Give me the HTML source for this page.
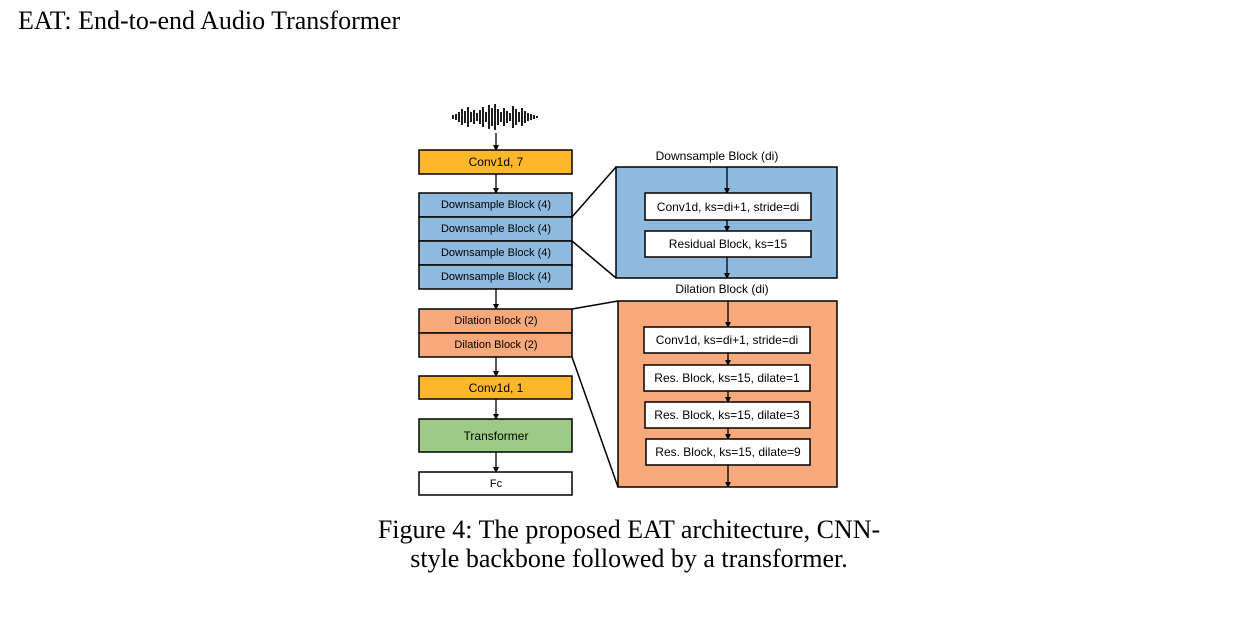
<!DOCTYPE html>
<html><head><style>
body{margin:0;background:#fff;width:1246px;height:620px;overflow:hidden;position:relative}
.t{position:absolute;font-family:"Liberation Serif",serif;color:#000}
svg text{font-family:"Liberation Sans",sans-serif;font-size:11.5px;text-anchor:middle;dominant-baseline:central}
</style></head><body>
<div class="t" style="left:18px;top:6px;font-size:26px">EAT: End-to-end Audio Transformer</div>
<div class="t" style="left:306px;top:515px;width:646px;text-align:center;font-size:26px;line-height:29px">Figure 4: The proposed EAT architecture, CNN-<br>style backbone followed by a transformer.</div>
<svg width="1246" height="620" style="position:absolute;left:0;top:0">
<defs><marker id="a" markerWidth="6" markerHeight="6" refX="5" refY="3" orient="auto" markerUnits="userSpaceOnUse"><path d="M0,0L6,3L0,6z" fill="#000"/></marker></defs>
<g stroke="#111" stroke-width="1.9">
<line x1="453" y1="115" x2="453" y2="119"/><line x1="456" y1="114" x2="456" y2="120"/><line x1="459" y1="112" x2="459" y2="122"/><line x1="462" y1="109" x2="462" y2="125"/><line x1="465" y1="111" x2="465" y2="123"/><line x1="468" y1="107" x2="468" y2="127"/><line x1="471" y1="112" x2="471" y2="122"/><line x1="474" y1="110" x2="474" y2="124"/><line x1="477" y1="113" x2="477" y2="121"/><line x1="480" y1="110" x2="480" y2="124"/><line x1="483" y1="107" x2="483" y2="127"/><line x1="486" y1="112" x2="486" y2="122"/><line x1="489" y1="105" x2="489" y2="129"/><line x1="492" y1="108" x2="492" y2="126"/><line x1="495" y1="104" x2="495" y2="130"/><line x1="498" y1="109" x2="498" y2="125"/><line x1="501" y1="112" x2="501" y2="122"/><line x1="504" y1="108" x2="504" y2="126"/><line x1="507" y1="111" x2="507" y2="123"/><line x1="510" y1="113" x2="510" y2="121"/><line x1="513" y1="106" x2="513" y2="128"/><line x1="516" y1="109" x2="516" y2="125"/><line x1="519" y1="112" x2="519" y2="122"/><line x1="522" y1="108" x2="522" y2="126"/><line x1="525" y1="111" x2="525" y2="123"/><line x1="528" y1="113" x2="528" y2="121"/><line x1="531" y1="114" x2="531" y2="120"/><line x1="534" y1="115" x2="534" y2="119"/><line x1="537" y1="116" x2="537" y2="118"/>
</g>
<g stroke="#000" stroke-width="1.3" marker-end="url(#a)">
<line x1="496" y1="133" x2="496" y2="150"/>
<line x1="496" y1="174" x2="496" y2="193"/>
<line x1="496" y1="289" x2="496" y2="309"/>
<line x1="496" y1="357" x2="496" y2="376"/>
<line x1="496" y1="399" x2="496" y2="419"/>
<line x1="496" y1="452" x2="496" y2="472"/>
</g>
<g stroke="#000" stroke-width="1.5">
<rect x="419" y="150" width="153" height="24" fill="#fdb72a"/>
<rect x="419" y="193" width="153" height="24" fill="#8ebadf"/>
<rect x="419" y="217" width="153" height="24" fill="#8ebadf"/>
<rect x="419" y="241" width="153" height="24" fill="#8ebadf"/>
<rect x="419" y="265" width="153" height="24" fill="#8ebadf"/>
<rect x="419" y="309" width="153" height="24" fill="#f8a97c"/>
<rect x="419" y="333" width="153" height="24" fill="#f8a97c"/>
<rect x="419" y="376" width="153" height="23" fill="#fdb72a"/>
<rect x="419" y="419" width="153" height="33" fill="#9dcb86"/>
<rect x="419" y="472" width="153" height="23" fill="#fff"/>
<rect x="616" y="167" width="221" height="111" fill="#8ebadf"/>
<rect x="618" y="301" width="219" height="186" fill="#f8a97c"/>
<line x1="572" y1="217" x2="616" y2="167"/>
<line x1="572" y1="241" x2="616" y2="278"/>
<line x1="572" y1="309" x2="618" y2="301"/>
<line x1="572" y1="357" x2="618" y2="487"/>
</g>
<g stroke="#000" stroke-width="1.3" marker-end="url(#a)">
<line x1="727" y1="167" x2="727" y2="193"/>
<line x1="727" y1="220" x2="727" y2="231"/>
<line x1="727" y1="257" x2="727" y2="278"/>
<line x1="728" y1="301" x2="728" y2="327"/>
<line x1="728" y1="353" x2="728" y2="365"/>
<line x1="728" y1="391" x2="728" y2="402"/>
<line x1="728" y1="428" x2="728" y2="439"/>
<line x1="728" y1="465" x2="728" y2="487"/>
</g>
<g stroke="#000" stroke-width="1.5" fill="#fff">
<rect x="645" y="193" width="166" height="27"/>
<rect x="645" y="231" width="166" height="26"/>
<rect x="644" y="327" width="166" height="26"/>
<rect x="644" y="365" width="166" height="26"/>
<rect x="645" y="402" width="165" height="26"/>
<rect x="646" y="439" width="164" height="26"/>
</g>
<text x="496" y="162" style="font-size:12px">Conv1d, 7</text>
<text x="496" y="205" style="font-size:11px">Downsample Block (4)</text>
<text x="496" y="229" style="font-size:11px">Downsample Block (4)</text>
<text x="496" y="253" style="font-size:11px">Downsample Block (4)</text>
<text x="496" y="277" style="font-size:11px">Downsample Block (4)</text>
<text x="496" y="321" style="font-size:11px">Dilation Block (2)</text>
<text x="496" y="345" style="font-size:11px">Dilation Block (2)</text>
<text x="496" y="388" style="font-size:12px">Conv1d, 1</text>
<text x="496" y="436" style="font-size:12px">Transformer</text>
<text x="496" y="484" style="font-size:11px">Fc</text>
<text x="717" y="156" style="font-size:12px">Downsample Block (di)</text>
<text x="722" y="289" style="font-size:12px">Dilation Block (di)</text>
<text x="728" y="207" style="font-size:12px">Conv1d, ks=di+1, stride=di</text>
<text x="728" y="244" style="font-size:12px">Residual Block, ks=15</text>
<text x="727" y="340" style="font-size:12px">Conv1d, ks=di+1, stride=di</text>
<text x="727" y="378" style="font-size:12px">Res. Block, ks=15, dilate=1</text>
<text x="727" y="415" style="font-size:12px">Res. Block, ks=15, dilate=3</text>
<text x="728" y="452" style="font-size:12px">Res. Block, ks=15, dilate=9</text>
</svg>
</body></html>
